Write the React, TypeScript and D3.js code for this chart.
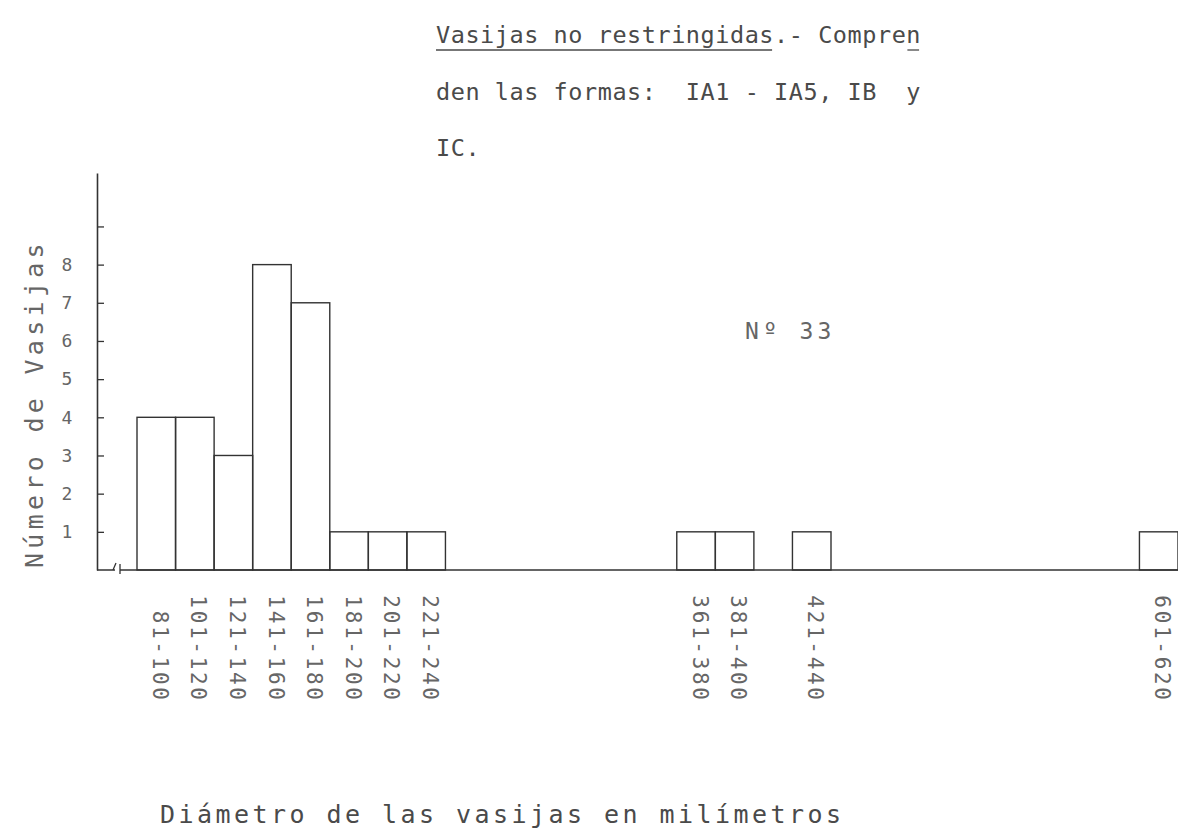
import { useEffect, useRef } from 'react'
import * as d3 from 'd3'

// ─── Data ────────────────────────────────────────────────────────────────────

const binStarts = [81, 101, 121, 141, 161, 181, 201, 221, 361, 381, 421, 601]
const binWidth = 20
const counts = [4, 4, 3, 8, 7, 1, 1, 1, 1, 1, 1, 1]
const binLabels = [
  '81-100', '101-120', '121-140', '141-160', '161-180', '181-200',
  '201-220', '221-240', '361-380', '381-400', '421-440', '601-620',
]
const yTicks = [1, 2, 3, 4, 5, 6, 7, 8, 9]
const yTickLabels = [1, 2, 3, 4, 5, 6, 7, 8]

const titleLines = [
  'Vasijas no restringidas.- Compren',
  'den las formas:  IA1 - IA5, IB  y',
  'IC.',
]
const yTitle = 'Número de Vasijas'
const xTitle = 'Diámetro de las vasijas en milímetros'
const figureNo = 'Nº 33'

// ─── Look ────────────────────────────────────────────────────────────────────

const W = 1178
const H = 832
const MONO = '"DejaVu Sans Mono", monospace'
const INK = '#333'
const TYPE = '#4a4a4a'
const LIGHT = '#666'
const ADV = 0.6021 // DejaVu Sans Mono advance per em

export default function App() {
  const ref = useRef<SVGSVGElement>(null)

  useEffect(() => {
    if (!ref.current) return
    d3.select(ref.current).selectAll('*').remove()
    render(ref.current)
  }, [])

  return (
    <svg
      ref={ref}
      width={W}
      height={H}
      style={{ position: 'absolute', left: 0, top: 0, background: '#fff', display: 'block' }}
    />
  )
}

function render(el: SVGSVGElement) {
  const svg = d3.select(el).style('font-family', MONO)

  const x = d3.scaleLinear().domain([81, 621]).range([137, 1178])
  const y = d3.scaleLinear().domain([0, 10.4]).range([570, 173])
  const x0 = 97

  // ── title block (typed paragraph) ──
  const tSize = 23.5
  const tLs = 0.55
  const pitch = tSize * ADV + tLs
  const tx = 436
  const tBase = [43, 100, 156]
  titleLines.forEach((line, i) => {
    svg.append('text')
      .attr('x', tx)
      .attr('y', tBase[i])
      .attr('font-size', tSize)
      .attr('letter-spacing', tLs)
      .attr('fill', TYPE)
      .attr('xml:space', 'preserve')
      .style('white-space', 'pre')
      .text(line)
  })
  // underline "Vasijas no restringidas" and the hyphenation mark under the last "n"
  const ulY = tBase[0] + 7
  svg.append('line')
    .attr('x1', tx).attr('x2', tx + 23 * pitch - 2)
    .attr('y1', ulY).attr('y2', ulY)
    .attr('stroke', TYPE).attr('stroke-width', 1.3)
  svg.append('line')
    .attr('x1', tx + 32 * pitch + 1).attr('x2', tx + 33 * pitch - 2)
    .attr('y1', ulY).attr('y2', ulY)
    .attr('stroke', TYPE).attr('stroke-width', 1.3)

  // ── bars ──
  const rows = binStarts.map((s, i) => ({ s, n: counts[i], label: binLabels[i] }))
  svg.append('g')
    .selectAll('rect')
    .data(rows)
    .join('rect')
    .attr('x', (d) => x(d.s))
    .attr('y', (d) => y(d.n))
    .attr('width', (d) => x(d.s + binWidth) - x(d.s))
    .attr('height', (d) => y(0) - y(d.n))
    .attr('fill', 'none')
    .attr('stroke', INK)
    .attr('stroke-width', 1.4)

  // ── y axis (ticks pointing inward) ──
  svg.append('g')
    .attr('transform', `translate(${x0},0)`)
    .call(
      d3.axisLeft(y)
        .tickValues(yTicks)
        .tickSize(-7)
        .tickSizeOuter(0)
        .tickPadding(30)
        .tickFormat((v) => (yTickLabels.includes(v as number) ? String(v) : '')),
    )
    .call((g) => g.select('.domain').attr('stroke', INK).attr('stroke-width', 1.6))
    .call((g) => g.selectAll('.tick line').attr('stroke', INK).attr('stroke-width', 1.3))
    .call((g) =>
      g.selectAll('.tick text')
        .attr('font-family', MONO)
        .attr('font-size', 18)
        .attr('fill', LIGHT)
        .attr('text-anchor', 'middle'),
    )

  // ── baseline with axis break ──
  const by = y(0)
  const b1 = x0 + 18
  const b2 = x0 + 23
  svg.append('path')
    .attr('d', `M${x0},${by}H${b1}M${b2},${by}H${x.range()[1]}`)
    .attr('stroke', INK).attr('stroke-width', 1.6).attr('fill', 'none')
  svg.append('path')
    .attr('d', `M${b1 - 2},${by}L${b1 + 1},${by - 7}M${b2},${by - 6}L${b2},${by + 4}`)
    .attr('stroke', INK).attr('stroke-width', 1.3).attr('fill', 'none')

  // ── x labels, typed sideways ──
  const lSize = 21
  const lLs = 2.7
  svg.append('g')
    .selectAll('text')
    .data(rows)
    .join('text')
    .attr('transform', (d) => `translate(${x(d.s + binWidth / 2) + 4},${700 + lLs}) rotate(90)`)
    .attr('text-anchor', 'end')
    .attr('dy', '0.35em')
    .attr('font-size', lSize)
    .attr('letter-spacing', lLs)
    .attr('fill', LIGHT)
    .text((d) => d.label)

  // ── axis titles ──
  svg.append('text')
    .attr('transform', `translate(43,568) rotate(-90)`)
    .attr('font-size', 25)
    .attr('letter-spacing', 4.3)
    .attr('fill', LIGHT)
    .text(yTitle)

  svg.append('text')
    .attr('x', 160)
    .attr('y', 823)
    .attr('font-size', 25)
    .attr('letter-spacing', 3.45)
    .attr('fill', TYPE)
    .text(xTitle)

  // ── figure number ──
  svg.append('text')
    .attr('x', 745)
    .attr('y', 339)
    .attr('font-size', 23)
    .attr('letter-spacing', 4.3)
    .attr('fill', LIGHT)
    .attr('xml:space', 'preserve')
    .style('white-space', 'pre')
    .text(figureNo)
}
